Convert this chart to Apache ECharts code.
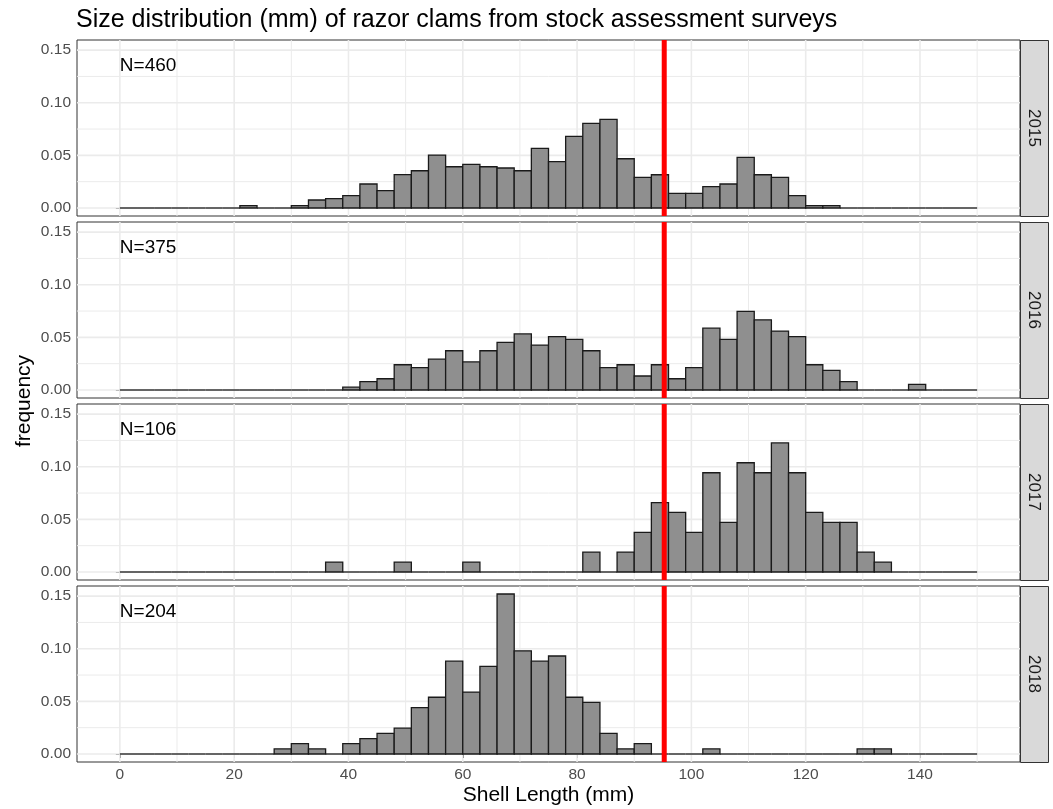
<!DOCTYPE html>
<html>
<head>
<meta charset="utf-8">
<script src="https://cdn.jsdelivr.net/npm/echarts@6/dist/echarts.min.js"></script>
<style>
  html, body { margin: 0; padding: 0; background: #fff; }
  #chart { width: 1053px; height: 809px; }
</style>
</head>
<body>
<div id="chart"></div>
<script>
// ---------------- DATA ----------------
const years = ['2015', '2016', '2017', '2018'];
const sampleSizes = [460, 375, 106, 204];
// histogram bins: 3 mm wide, 0..150 mm
const binStarts = [0,3,6,9,12,15,18,21,24,27,30,33,36,39,42,45,48,51,54,57,60,63,66,69,72,75,78,81,84,87,90,93,96,99,102,105,108,111,114,117,120,123,126,129,132,135,138,141,144,147];
const binEnds   = [3,6,9,12,15,18,21,24,27,30,33,36,39,42,45,48,51,54,57,60,63,66,69,72,75,78,81,84,87,90,93,96,99,102,105,108,111,114,117,120,123,126,129,132,135,138,141,144,147,150];
const freq2015 = [0,0,0,0,0,0,0,0.0022,0,0,0.0022,0.0076,0.0089,0.0117,0.0228,0.0165,0.0317,0.0354,0.0503,0.0392,0.0415,0.0392,0.0380,0.0354,0.0566,0.0440,0.0680,0.0804,0.0842,0.0468,0.0291,0.0316,0.0139,0.0139,0.0203,0.0228,0.0480,0.0316,0.0291,0.0117,0.0022,0.0022,0,0,0,0,0,0,0,0];
const freq2016 = [0,0,0,0,0,0,0,0,0,0,0,0,0,0.0027,0.0080,0.0107,0.0240,0.0213,0.0293,0.0373,0.0267,0.0373,0.0453,0.0533,0.0427,0.0507,0.0480,0.0373,0.0213,0.0240,0.0133,0.0240,0.0107,0.0213,0.0587,0.0480,0.0747,0.0667,0.0560,0.0507,0.0240,0.0187,0.0080,0,0,0,0.0053,0,0,0];
const freq2017 = [0,0,0,0,0,0,0,0,0,0,0,0,0.0094,0,0,0,0.0094,0,0,0,0.0094,0,0,0,0,0,0,0.0189,0,0.0189,0.0377,0.0660,0.0566,0.0377,0.0943,0.0472,0.1038,0.0943,0.1226,0.0943,0.0566,0.0472,0.0472,0.0189,0.0094,0,0,0,0,0];
const freq2018 = [0,0,0,0,0,0,0,0,0,0.0049,0.0098,0.0049,0,0.0098,0.0147,0.0196,0.0245,0.0441,0.0539,0.0882,0.0588,0.0833,0.1520,0.0980,0.0882,0.0931,0.0539,0.0490,0.0196,0.0049,0.0098,0,0,0,0.0049,0,0,0,0,0,0,0,0,0.0049,0.0049,0,0,0,0,0];
const allFreq = [freq2015, freq2016, freq2017, freq2018];
const legalSize = 95.25;           // red reference line (mm)
const xTicks = [0, 20, 40, 60, 80, 100, 120, 140];
const xMinor = [10, 30, 50, 70, 90, 110, 130, 150];
const yTicks = [0, 0.05, 0.10, 0.15];
const yMinor = [0.025, 0.075, 0.125];
const xRange = [-7.5, 157.5];
const yRange = [-0.0076, 0.1596];
const labelY = 0.135;
const titleText = 'Size distribution (mm) of razor clams from stock assessment surveys';
const xTitle = 'Shell Length (mm)';
const yTitle = 'frequency';

// ---------------- LAYOUT / STYLE ----------------
const FONT = '"Liberation Sans", Arial, sans-serif';
const panelLeft = 77, panelRight = 1020, panelH = 176;
const tops = [40, 222, 404, 586];
const stripW = 28;

const chart = echarts.init(document.getElementById('chart'), null, { renderer: 'canvas' });

const grids = [], xAxes = [], yAxes = [], series = [], graphics = [];

years.forEach((yr, i) => {
  const isLast = i === years.length - 1;
  grids.push({
    left: panelLeft, top: tops[i], width: panelRight - panelLeft, height: panelH,
    show: true, borderColor: '#333333', borderWidth: 1, backgroundColor: '#ffffff',
    containLabel: false
  });
  xAxes.push({
    type: 'value', gridIndex: i, min: xRange[0], max: xRange[1],
    axisLine: { show: false },
    axisTick: { show: isLast, length: 4, lineStyle: { color: '#333333', width: 1 }, customValues: xTicks },
    axisLabel: { show: isLast, customValues: xTicks, color: '#4D4D4D', fontSize: 15.5, fontFamily: FONT, margin: 5,
                 formatter: v => String(v) },
    splitLine: { show: false }, minorSplitLine: { show: false }
  });
  yAxes.push({
    type: 'value', gridIndex: i, min: yRange[0], max: yRange[1],
    axisLine: { show: false },
    axisTick: { show: true, length: 4, lineStyle: { color: '#333333', width: 1 }, customValues: yTicks },
    axisLabel: { show: true, customValues: yTicks, color: '#4D4D4D', fontSize: 15.5, fontFamily: FONT, margin: 6,
                 formatter: v => v.toFixed(2) },
    splitLine: { show: false }, minorSplitLine: { show: false }
  });

  // gridlines (drawn through the axes' scales)
  series.push({
    type: 'custom', xAxisIndex: i, yAxisIndex: i, z: 1, silent: true, clip: true,
    data: [[0, 0]],
    renderItem: (params, api) => {
      const cs = params.coordSys;
      const children = [];
      const vline = (v, w) => {
        const x = api.coord([v, 0])[0];
        children.push({ type: 'line', shape: { x1: x, y1: cs.y, x2: x, y2: cs.y + cs.height },
          style: { stroke: '#EBEBEB', lineWidth: w } });
      };
      const hline = (v, w) => {
        const y = api.coord([0, v])[1];
        children.push({ type: 'line', shape: { x1: cs.x, y1: y, x2: cs.x + cs.width, y2: y },
          style: { stroke: '#EBEBEB', lineWidth: w } });
      };
      xMinor.forEach(v => vline(v, 1));
      yMinor.forEach(v => hline(v, 1));
      xTicks.forEach(v => vline(v, 1.6));
      yTicks.forEach(v => hline(v, 1.6));
      return { type: 'group', children };
    }
  });

  // histogram bars
  const data = binStarts.map((s, k) => [s, binEnds[k], allFreq[i][k]]);
  series.push({
    type: 'custom', xAxisIndex: i, yAxisIndex: i, z: 2, silent: true,
    encode: { x: [0, 1], y: 2 },
    data,
    renderItem: (params, api) => {
      const x0 = api.value(0), x1 = api.value(1), v = api.value(2);
      const p0 = api.coord([x0, 0]);
      const p1 = api.coord([x1, v]);
      if (!v) {
        return { type: 'line', shape: { x1: p0[0], y1: p0[1], x2: p1[0], y2: p0[1] },
          style: { stroke: '#1A1A1A', lineWidth: 1.3 } };
      }
      return { type: 'rect',
        shape: { x: p0[0], y: p1[1], width: p1[0] - p0[0], height: p0[1] - p1[1] },
        style: { fill: '#8F8F8F', stroke: '#1A1A1A', lineWidth: 1.3 } };
    }
  });

  // red reference line + N label
  series.push({
    type: 'custom', xAxisIndex: i, yAxisIndex: i, z: 3, silent: true,
    data: [[legalSize, labelY]],
    renderItem: (params, api) => {
      const cs = params.coordSys;
      const x = api.coord([api.value(0), 0])[0];
      const lp = api.coord([0, api.value(1)]);
      return { type: 'group', children: [
        { type: 'line', shape: { x1: x, y1: cs.y, x2: x, y2: cs.y + cs.height },
          style: { stroke: '#FF0000', lineWidth: 5 } },
        { type: 'text', x: lp[0], y: lp[1],
          style: { text: 'N=' + sampleSizes[i], fill: '#000000', font: '19px ' + FONT,
                   textAlign: 'left', textVerticalAlign: 'middle' } }
      ] };
    }
  });

  // facet strip
  graphics.push({
    type: 'rect', left: panelRight, top: tops[i],
    shape: { x: 0, y: 0, width: stripW, height: panelH },
    style: { fill: '#D9D9D9', stroke: '#333333', lineWidth: 1 }
  });
  graphics.push({
    type: 'text', x: panelRight + stripW / 2, y: tops[i] + panelH / 2, rotation: -Math.PI / 2,
    style: { text: yr, fill: '#1A1A1A', font: '17px ' + FONT, textAlign: 'center', textVerticalAlign: 'middle' }
  });
});

graphics.push({
  type: 'text', x: panelLeft - 1, y: 20,
  style: { text: titleText, fill: '#000000', font: '25px ' + FONT, textAlign: 'left', textVerticalAlign: 'middle' }
});
graphics.push({
  type: 'text', x: (panelLeft + panelRight) / 2, y: 795,
  style: { text: xTitle, fill: '#000000', font: '21px ' + FONT, textAlign: 'center', textVerticalAlign: 'middle' }
});
graphics.push({
  type: 'text', x: 24, y: (tops[0] + tops[3] + panelH) / 2, rotation: Math.PI / 2,
  style: { text: yTitle, fill: '#000000', font: '21px ' + FONT, textAlign: 'center', textVerticalAlign: 'middle' }
});

chart.setOption({
  animation: false,
  backgroundColor: '#ffffff',
  grid: grids,
  xAxis: xAxes,
  yAxis: yAxes,
  series,
  graphic: { elements: graphics }
});
</script>
</body>
</html>
